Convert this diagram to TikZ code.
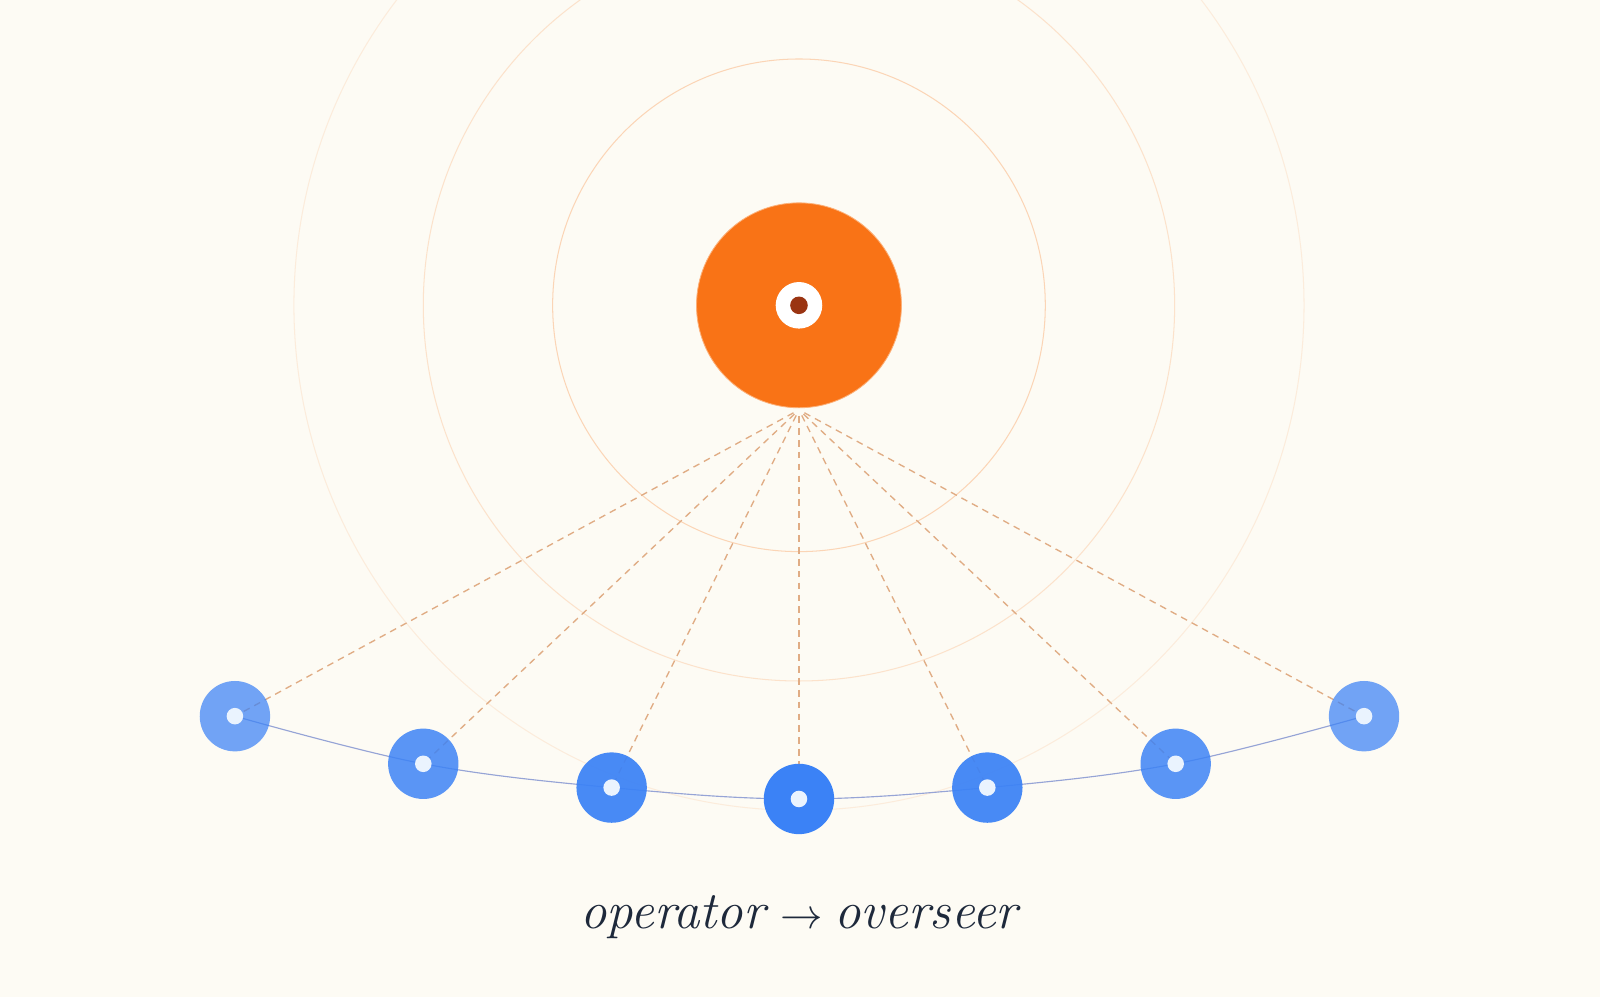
\documentclass[tikz,border=0pt]{standalone}
\usepackage{fontspec}
\begin{document}
\begin{tikzpicture}[x=1pt,y=-1pt,
  ring/.style={line width=1pt},
  ray/.style={draw={rgb,255:red,224;green,172;blue,132},line width=1.3pt,dash pattern=on 6.5pt off 5pt,shorten <=6pt},
  worker/.style={circle,fill=blueM,inner sep=0pt,minimum size=68pt},
  core/.style={circle,fill=dotL,inner sep=0pt,minimum size=16pt},
  label/.style={text=ink,font=\fontsize{51}{57}\selectfont\itshape,anchor=base}
]
\definecolor{bg}{RGB}{253,251,244}
\definecolor{orangeM}{RGB}{249,115,22}
\definecolor{orangeEdge}{RGB}{252,176,120}
\definecolor{deepRed}{RGB}{154,52,18}
\definecolor{blueM}{RGB}{59,130,246}
\definecolor{dotL}{RGB}{234,243,254}
\definecolor{curveC}{RGB}{150,164,214}
\definecolor{ink}{RGB}{30,41,59}
\useasboundingbox (0,0) rectangle (1546,963);
\fill[bg] (0,0) rectangle (1546,963);
\coordinate (C) at (772,295);
% rings
\draw[ring,draw=orangeM,draw opacity=0.28] (C) circle[radius=238];
\draw[ring,draw=orangeM,draw opacity=0.18] (C) circle[radius=363];
\draw[ring,draw=orangeM,draw opacity=0.11] (C) circle[radius=488];
% worker positions
\coordinate (p1) at (227,692);
\coordinate (p2) at (409,738);
\coordinate (p3) at (591,761);
\coordinate (p4) at (772,772);
\coordinate (p5) at (954,761);
\coordinate (p6) at (1136,738);
\coordinate (p7) at (1318,692);
\coordinate (B) at (772,396);
% rays
\foreach \i in {1,...,7} {\draw[ray] (B) -- (p\i);}
% curve
\draw[curveC,line width=1.1pt] plot[smooth,tension=0.6] coordinates {(p1) (p2) (p3) (p4) (p5) (p6) (p7)};
% workers
\node[worker,fill opacity=0.72] (n1) at (p1) {};
\node[worker,fill opacity=0.84] (n2) at (p2) {};
\node[worker,fill opacity=0.93] (n3) at (p3) {};
\node[worker,fill opacity=1] (n4) at (p4) {};
\node[worker,fill opacity=0.93] (n5) at (p5) {};
\node[worker,fill opacity=0.84] (n6) at (p6) {};
\node[worker,fill opacity=0.72] (n7) at (p7) {};
\foreach \i in {1,...,7} {\node[core] (c\i) at (p\i) {};}
% hub
\node[circle,fill=orangeM,draw=orangeEdge,line width=0.8pt,inner sep=0pt,minimum size=198pt] (hub) at (C) {};
\node[circle,fill=white,inner sep=0pt,minimum size=45pt] (hubring) at (C) {};
\node[circle,fill=deepRed,inner sep=0pt,minimum size=17pt] (hubdot) at (C) {};
% caption
\node[label] (cap) at (772,897) {operator\hspace{15pt}{\fontsize{10}{12}\selectfont\scalebox{4.1}{$\rightarrow$}}\hspace{11pt}overseer};
\end{tikzpicture}
\end{document}
